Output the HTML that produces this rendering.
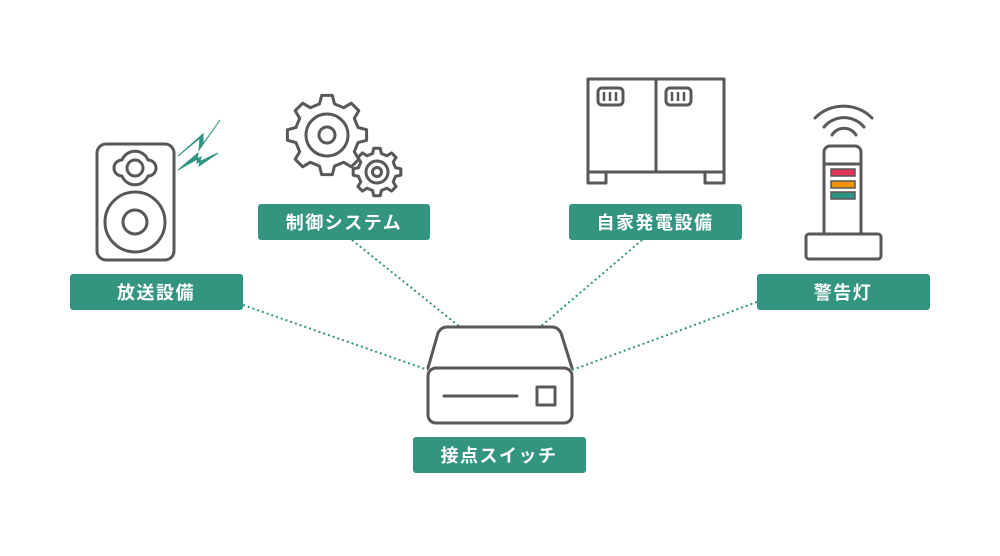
<!DOCTYPE html>
<html><head><meta charset="utf-8"><style>
html,body{margin:0;padding:0;background:#fff;}
svg{display:block;}
text{font-family:"Liberation Sans","Noto Sans CJK JP",sans-serif;font-weight:bold;fill:#fff;font-size:18px;letter-spacing:1.5px;}
</style></head><body>
<svg id="s" width="1000" height="556" viewBox="0 0 1000 556" xmlns="http://www.w3.org/2000/svg">
<g stroke="#2f9480" stroke-width="2" stroke-dasharray="2 3" fill="none">
<line x1="243" y1="305" x2="428" y2="370"/>
<line x1="352" y1="240" x2="460" y2="327"/>
<line x1="642" y1="240" x2="540" y2="327"/>
<line x1="757" y1="302" x2="572" y2="370"/>
</g>
<g fill="none" stroke="#595757" stroke-width="3" stroke-linejoin="round" stroke-linecap="round">
<!-- speaker -->
<rect x="97" y="144" width="77" height="116" rx="9"/>
<path d="M122 160 A14 14 0 0 1 148 160 A8 8 0 0 1 148 176 A14 14 0 0 1 122 176 A8 8 0 0 1 122 160 Z"/>
<circle cx="135" cy="168" r="8"/>
<circle cx="135" cy="222" r="30"/>
<circle cx="135" cy="222" r="12"/>
<!-- gears -->
<path id="g1"/><path id="g2"/>
<circle cx="327" cy="135" r="21"/><circle cx="327" cy="135" r="8"/>
<circle cx="377" cy="172" r="11"/><circle cx="377" cy="172" r="4.5"/>
<!-- generator -->
<rect x="588" y="79" width="136" height="93"/>
<line x1="656" y1="79" x2="656" y2="172"/>
<path d="M588 172 V183 H606 V172 M705 172 V183 H724 V172"/>
<rect x="598" y="88" width="25" height="17" rx="4"/>
<rect x="666" y="88" width="25" height="17" rx="4"/>
<!-- warning light -->
<path d="M824 234 V152 a6 6 0 0 1 6 -6 H855 a6 6 0 0 1 6 6 V234"/>
<line x1="824" y1="164" x2="861" y2="164"/>
<rect x="806" y="234" width="75" height="25" rx="3"/>
<path d="M815 118 A40 40 0 0 1 872 118"/>
<path d="M824 127 A26 26 0 0 1 864 127"/>
<path d="M832 135 A14 14 0 0 1 856 135"/>
<!-- switch -->
<path d="M428 368 L438 333 Q441 327 447 327 H552 Q558 327 561 333 L572 368"/>
<rect x="428" y="368" width="144" height="55" rx="8"/>
<line x1="444" y1="396" x2="517" y2="396"/>
<rect x="537" y="387" width="18" height="18"/>
</g>
<g stroke="#595757" stroke-width="1.5">
<rect x="831" y="169" width="24" height="7" fill="#e1325a"/>
<rect x="831" y="181" width="24" height="7" fill="#ef9200"/>
<rect x="831" y="192" width="24" height="7" fill="#2f9480"/>
</g>
<g stroke="#595757" stroke-width="2.5">
<line x1="604" y1="92" x2="604" y2="101"/><line x1="610" y1="92" x2="610" y2="101"/><line x1="616" y1="92" x2="616" y2="101"/>
<line x1="672" y1="92" x2="672" y2="101"/><line x1="678" y1="92" x2="678" y2="101"/><line x1="684" y1="92" x2="684" y2="101"/>
</g>
<!-- lightning -->
<g fill="#2f9480" stroke="#2f9480" stroke-width="1">
<path d="M178 156 L200 138 L199 150 L220 120 L203 144 L203 134 Z"/>
<path d="M178 170 L201 157 L199 166 L218 153 L197 163 L198 153 Z"/>
</g>
<g fill="#33947f">
<rect x="70" y="274" width="173" height="36" rx="3"/>
<rect x="258" y="204" width="172" height="36" rx="3"/>
<rect x="569" y="204" width="173" height="36" rx="3"/>
<rect x="757" y="274" width="173" height="36" rx="3"/>
<rect x="413" y="437" width="173" height="36" rx="3"/>
</g>
<text x="156" y="299" text-anchor="middle">放送設備</text>
<text x="344" y="229" text-anchor="middle">制御システム</text>
<text x="655" y="229" text-anchor="middle">自家発電設備</text>
<text x="843" y="299" text-anchor="middle">警告灯</text>
<text x="499" y="462" text-anchor="middle">接点スイッチ</text>
</svg>
<script>
function gear(cx,cy,ro,ri,n){var d="",s=Math.PI*2/n;for(var i=0;i<n;i++){var a=i*s-Math.PI/2;var pts=[[ri,a-s*0.3],[ro,a-s*0.17],[ro,a+s*0.17],[ri,a+s*0.3]];pts.forEach(function(p,j){d+=(i==0&&j==0?"M":"L")+(cx+p[0]*Math.cos(p[1])).toFixed(1)+" "+(cy+p[0]*Math.sin(p[1])).toFixed(1)+" ";});}
return d+"Z";}
document.getElementById("g1").setAttribute("d",gear(327,135,40,32,8));
document.getElementById("g2").setAttribute("d",gear(377,172,24,19,8));
</script>
</body></html>
